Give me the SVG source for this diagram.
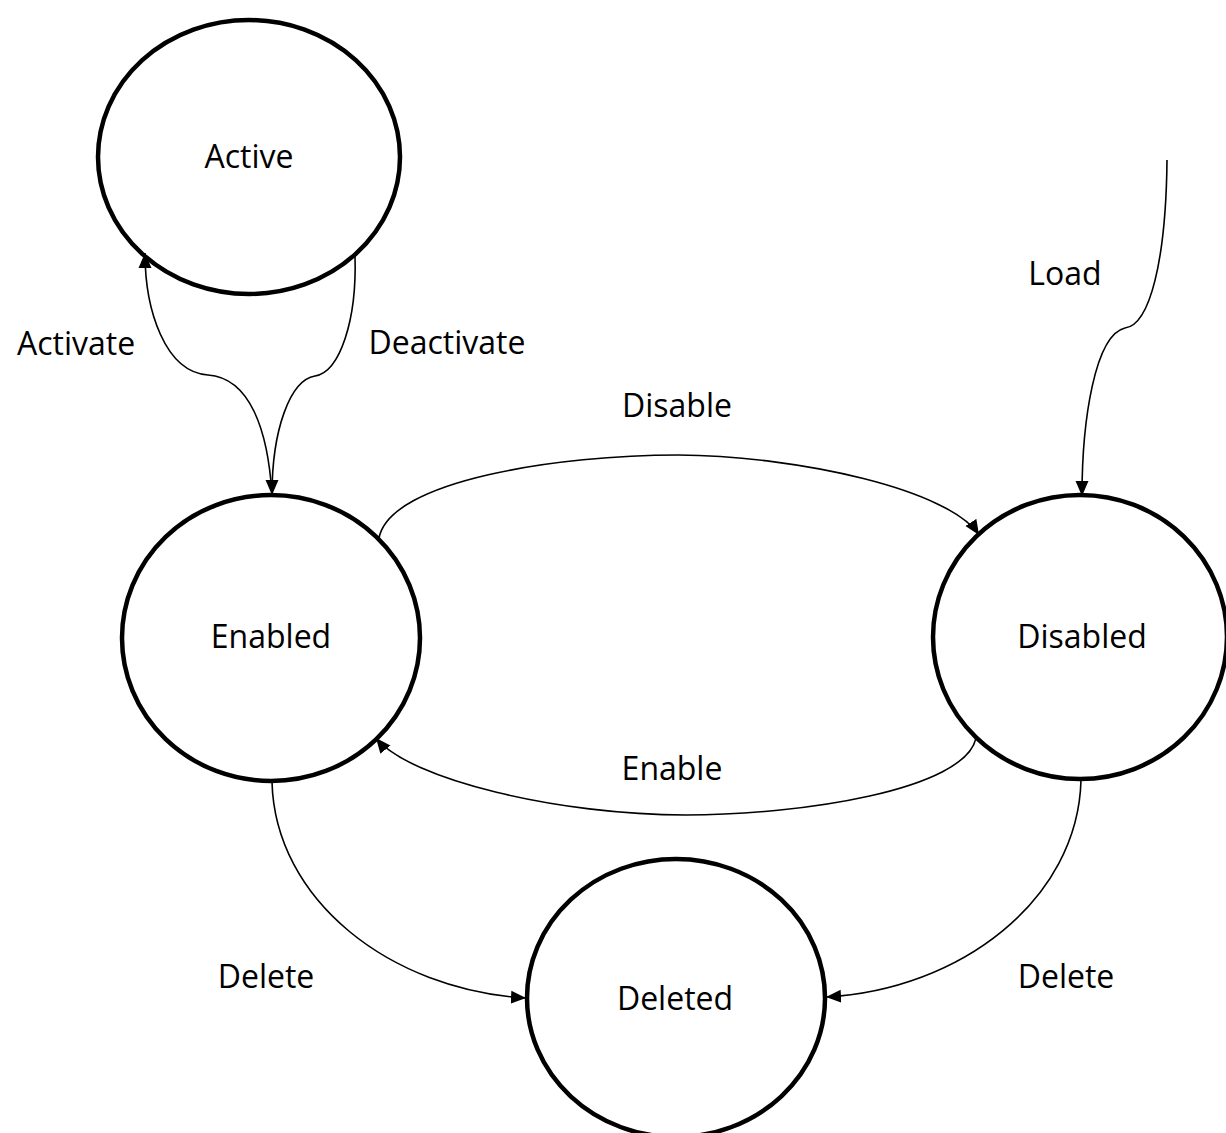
<svg xmlns="http://www.w3.org/2000/svg" width="1226" height="1133" viewBox="0 0 1226 1133">
<style>
.node{fill:#fff;stroke:#000;stroke-width:4.5}
.lbl{font-family:"Open Sans","Noto Sans",sans-serif;font-size:32px;fill:#000;text-anchor:middle}
.edge{fill:none;stroke:#000;stroke-width:1.6}
</style>
<defs>
<marker id="arr" markerUnits="userSpaceOnUse" markerWidth="16" markerHeight="14" refX="15" refY="7" orient="auto">
<path d="M0,0.5 L15,7 L0,13.5 z" fill="#000"/>
</marker>
</defs>
<rect width="1226" height="1133" fill="#fff"/>
<g id="nodes">
<g id="active"><ellipse class="node" cx="249" cy="157" rx="151" ry="137"/><text class="lbl" x="249" y="168">Active</text></g>
<g id="enabled"><ellipse class="node" cx="271" cy="638" rx="149" ry="143"/><text class="lbl" x="271" y="648">Enabled</text></g>
<g id="disabled"><ellipse class="node" cx="1080" cy="637" rx="147" ry="142"/><text class="lbl" x="1082" y="648">Disabled</text></g>
<g id="deleted"><ellipse class="node" cx="676" cy="998" rx="149" ry="139"/><text class="lbl" x="675" y="1010">Deleted</text></g>
</g>
<g id="connectors">
<path class="edge" marker-end="url(#arr)" d="M 272 495 C 268 430, 250 378, 208 375 C 165 372, 145 310, 145 253"/>
<path class="edge" marker-end="url(#arr)" d="M 355 256 C 357 320, 340 372, 315 376 C 290 380, 272 430, 272 495"/>
<path class="edge" marker-end="url(#arr)" d="M 379 538 C 390 480, 560 455, 678 455 C 800 456, 950 490, 979 535"/>
<path class="edge" marker-end="url(#arr)" d="M 976 738 C 965 790, 800 815, 686 815 C 560 815, 410 780, 376 738"/>
<path class="edge" marker-end="url(#arr)" d="M 272 782 C 275 900, 390 990, 526 998"/>
<path class="edge" marker-end="url(#arr)" d="M 1081 780 C 1078 900, 960 990, 826 997"/>
<path class="edge" marker-end="url(#arr)" d="M 1167 160 C 1166 260, 1150 325, 1125 328 C 1095 335, 1082 420, 1082 496"/>
</g>
<g id="labels">
<text class="lbl" x="76" y="355">Activate</text>
<text class="lbl" x="447" y="354">Deactivate</text>
<text class="lbl" x="1065" y="285">Load</text>
<text class="lbl" x="677" y="417">Disable</text>
<text class="lbl" x="672" y="780">Enable</text>
<text class="lbl" x="266" y="988">Delete</text>
<text class="lbl" x="1066" y="988">Delete</text>
</g>
</svg>
